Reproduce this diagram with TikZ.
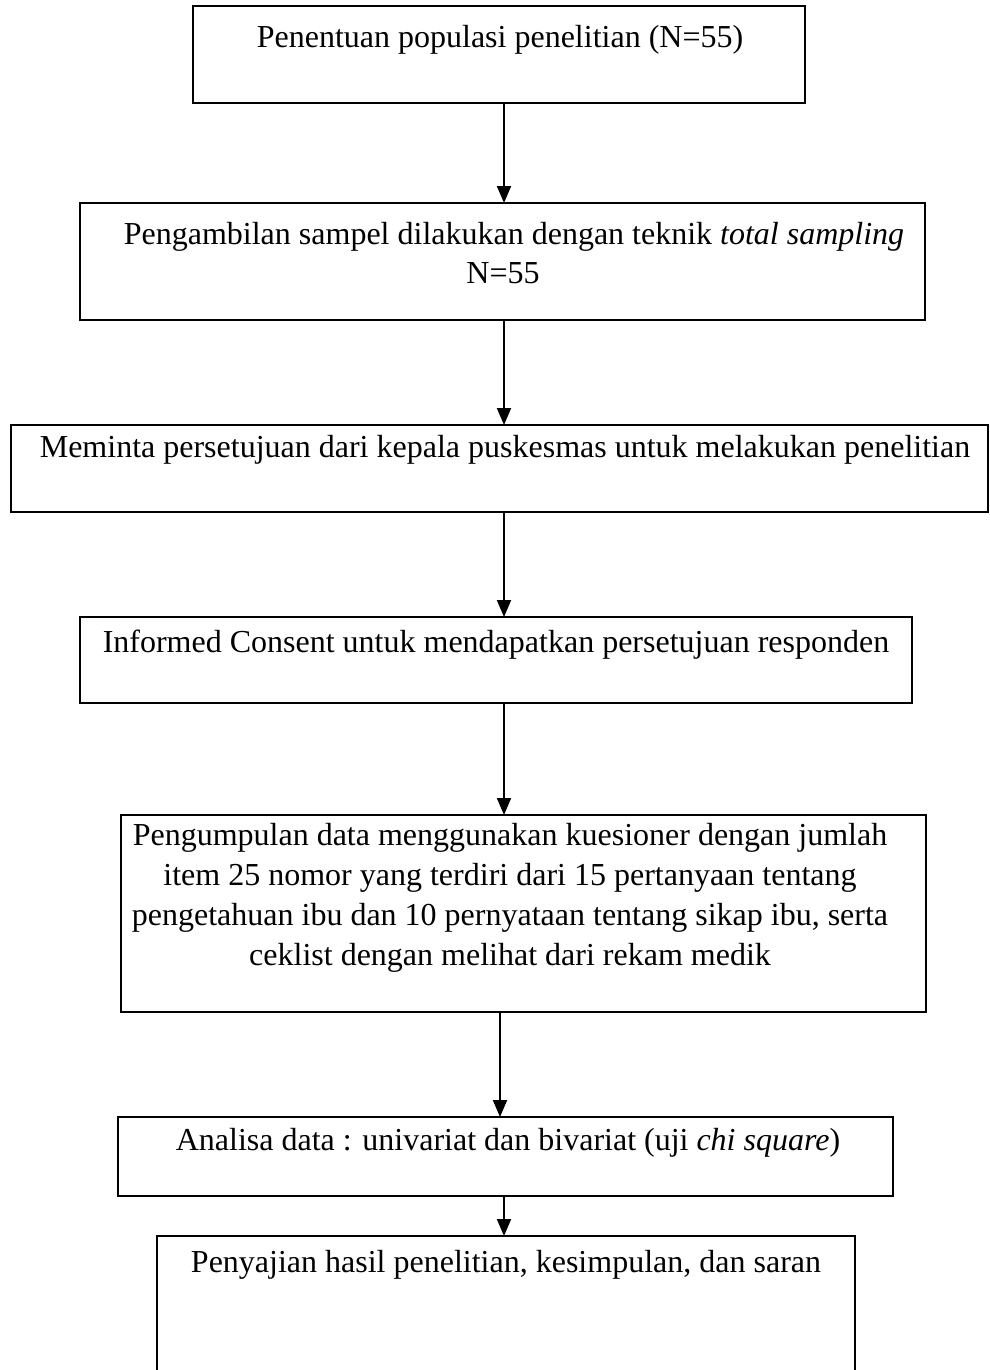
\documentclass[tikz,border=0pt]{standalone}
\usepackage{fontspec}
\setmainfont{Liberation Serif}
\usetikzlibrary{arrows.meta}
\begin{document}
\begin{tikzpicture}[x=1pt,y=-1pt,
  box/.style={draw=black, line width=1.9pt, inner sep=0pt, rectangle},
  txt/.style={anchor=base, inner sep=0pt, font=\fontsize{32}{40}\selectfont},
  flow/.style={draw=black, line width=1.9pt, -{Triangle[length=17pt,width=14pt]}}]
\useasboundingbox (0,0) rectangle (990,1370);
% boxes
\node[box, minimum width=612pt, minimum height=97pt] (b1) at (499,54.5) {};
\node[box, minimum width=845pt, minimum height=117pt] (b2) at (502.5,261.5) {};
\node[box, minimum width=977pt, minimum height=87pt] (b3) at (499.5,468.5) {};
\node[box, minimum width=832pt, minimum height=86pt] (b4) at (496,660) {};
\node[box, minimum width=805pt, minimum height=197pt] (b5) at (523.5,913.5) {};
\node[box, minimum width=775pt, minimum height=79pt] (b6) at (505.5,1156.5) {};
\node[box, minimum width=698pt, minimum height=160pt] (b7) at (506,1316) {};
% texts
\node[txt] (t1) at (500,48) {Penentuan populasi penelitian (N=55)};
\node[txt] (t2a) at (514,244) {Pengambilan sampel dilakukan dengan teknik \textit{total sampling}};
\node[txt] (t2b) at (503,283) {N=55};
\node[txt] (t3) at (505,457) {Meminta persetujuan dari kepala puskesmas untuk melakukan penelitian};
\node[txt] (t4) at (496,652) {Informed Consent untuk mendapatkan persetujuan responden};
\node[txt] (t5a) at (510,845) {Pengumpulan data menggunakan kuesioner dengan jumlah};
\node[txt] (t5b) at (510,885) {item 25 nomor yang terdiri dari 15 pertanyaan tentang};
\node[txt] (t5c) at (510,925) {pengetahuan ibu dan 10 pernyataan tentang sikap ibu, serta};
\node[txt] (t5d) at (510,965) {ceklist dengan melihat dari rekam medik};
\node[txt] (t6) at (508,1150) {Analisa data : univariat dan bivariat (uji \textit{chi square})};
\node[txt] (t7) at (506,1272) {Penyajian hasil penelitian, kesimpulan, dan saran};
% connectors
\coordinate (a1s) at (504,103); \coordinate (a1e) at (504,203);
\coordinate (a2s) at (504,320); \coordinate (a2e) at (504,425);
\coordinate (a3s) at (504,512); \coordinate (a3e) at (504,617);
\coordinate (a4s) at (504,703); \coordinate (a4e) at (504,815);
\coordinate (a5s) at (500,1012); \coordinate (a5e) at (500,1117);
\coordinate (a6s) at (504,1196); \coordinate (a6e) at (504,1236);
\draw[flow] (a1s) -- (a1e);
\draw[flow] (a2s) -- (a2e);
\draw[flow] (a3s) -- (a3e);
\draw[flow] (a4s) -- (a4e);
\draw[flow] (a5s) -- (a5e);
\draw[flow] (a6s) -- (a6e);
\end{tikzpicture}
\end{document}
